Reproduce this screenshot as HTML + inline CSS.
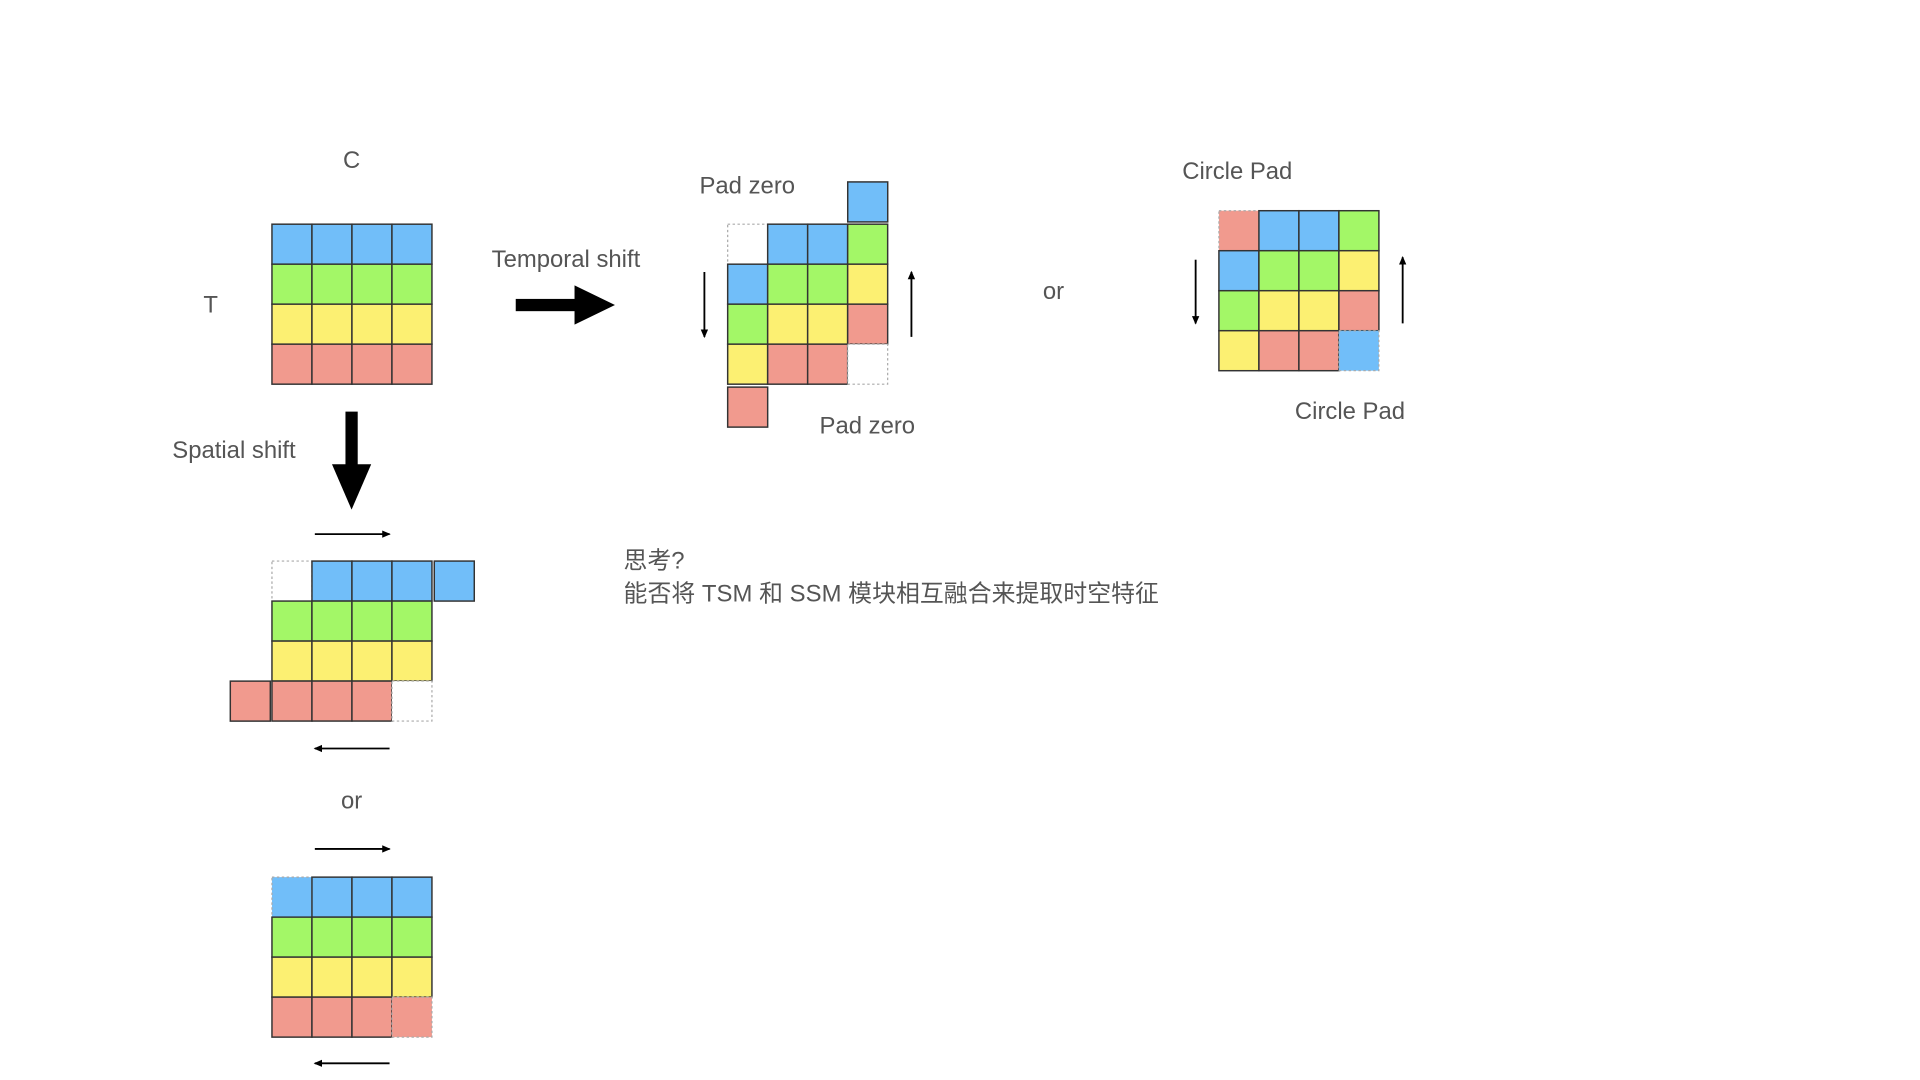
<!DOCTYPE html>
<html><head><meta charset="utf-8"><style>
html,body{margin:0;padding:0;background:#fff;width:1920px;height:1080px;overflow:hidden}
svg{display:block}
text{font-family:"Liberation Sans","Noto Sans CJK SC",sans-serif;fill:#555;font-size:19.5px}
</style></head><body>
<svg id="s" width="1920" height="1080" viewBox="0 0 1567.3 881.6">
<defs>
<marker id="ah" markerWidth="8" markerHeight="8" refX="6" refY="4" orient="auto" markerUnits="userSpaceOnUse"><path d="M0,1 L7,4 L0,7 Z" fill="#000"/></marker>
</defs>
<g id="grids"></g>
<text x="287" y="137" text-anchor="middle">C</text>
<text x="172" y="255" text-anchor="middle">T</text>
<text x="462" y="218" text-anchor="middle">Temporal shift</text>
<text x="610" y="158" text-anchor="middle">Pad zero</text>
<text x="708" y="354" text-anchor="middle">Pad zero</text>
<text x="860" y="244" text-anchor="middle">or</text>
<text x="1010" y="146" text-anchor="middle">Circle Pad</text>
<text x="1102" y="342" text-anchor="middle">Circle Pad</text>
<text x="191" y="374" text-anchor="middle">Spatial shift</text>
<text x="287" y="660" text-anchor="middle">or</text>
<text x="509" y="464">思考?</text>
<text x="509" y="491" textLength="437" lengthAdjust="spacing">能否将 TSM 和 SSM 模块相互融合来提取时空特征</text>
<g><rect x="421" y="244" width="50" height="10" fill="#000"/><path d="M469,233 L502,249 L469,265 Z" fill="#000"/></g>
<g><rect x="282" y="336" width="10" height="45" fill="#000"/><path d="M271,379 L287,416 L303,379 Z" fill="#000"/></g>
<line x1="575" y1="222" x2="575" y2="275" stroke="#000" stroke-width="1.5" marker-end="url(#ah)"/>
<line x1="744" y1="275" x2="744" y2="222" stroke="#000" stroke-width="1.5" marker-end="url(#ah)"/>
<line x1="976" y1="212" x2="976" y2="264" stroke="#000" stroke-width="1.5" marker-end="url(#ah)"/>
<line x1="1145" y1="264" x2="1145" y2="210" stroke="#000" stroke-width="1.5" marker-end="url(#ah)"/>
<line x1="257" y1="436" x2="318" y2="436" stroke="#000" stroke-width="1.5" marker-end="url(#ah)"/>
<line x1="318" y1="611" x2="257" y2="611" stroke="#000" stroke-width="1.5" marker-end="url(#ah)"/>
<line x1="257" y1="693" x2="318" y2="693" stroke="#000" stroke-width="1.5" marker-end="url(#ah)"/>
<line x1="318" y1="868" x2="257" y2="868" stroke="#000" stroke-width="1.5" marker-end="url(#ah)"/>
</svg>
<script>
const C = {b:'#71bef9', g:'#a3f767', y:'#fcf072', r:'#f19a8e', e:'#ffffff'};
const S = 32.65;
const gridOriginal = ['bbbb','gggg','yyyy','rrrr'];
const gridTemporal = ['Ebbg','bggy','gyyr','yrrE'];
const gridCircle = ['Rbbg','bggy','gyyr','yrrB'];
const gridSpatial = ['Ebbb','gggg','yyyy','rrrE'];
const gridSpatialCirc = ['Bbbb','gggg','yyyy','rrrR'];
const grids = [
  ['original-grid',222,183,gridOriginal],
  ['temporal-pad-grid',594,183,gridTemporal],
  ['temporal-extra-blue',692,148.5,['b']],
  ['temporal-extra-red',594,316,['r']],
  ['circle-pad-grid',995,172,gridCircle],
  ['spatial-pad-grid',222,458,gridSpatial],
  ['spatial-extra-blue',354.5,458,['b']],
  ['spatial-extra-red',188,556,['r']],
  ['spatial-circle-grid',222,716,gridSpatialCirc]
];
const NS='http://www.w3.org/2000/svg';
const root=document.getElementById('grids');
grids.forEach(([name,x0,y0,rows])=>{
  const g=document.createElementNS(NS,'g');
  
  
  rows.forEach((row,ri)=>{
    [...row].forEach((ch,ci)=>{
      if(ch==='.')return;
      const dotted = ch===ch.toUpperCase();
      const key = ch.toLowerCase();
      const r=document.createElementNS(NS,'rect');
      r.setAttribute('x',x0+ci*S);r.setAttribute('y',y0+ri*S);
      r.setAttribute('width',S);r.setAttribute('height',S);
      r.setAttribute('fill',C[key]);
      r.setAttribute('stroke',dotted?'#aaa':'#333');
      r.setAttribute('stroke-width',dotted?'1':'1.2');
      if(dotted)r.setAttribute('stroke-dasharray','2,2');
      
      
      g.appendChild(r);
    });
  });
  root.appendChild(g);
});
</script>
</body></html>
